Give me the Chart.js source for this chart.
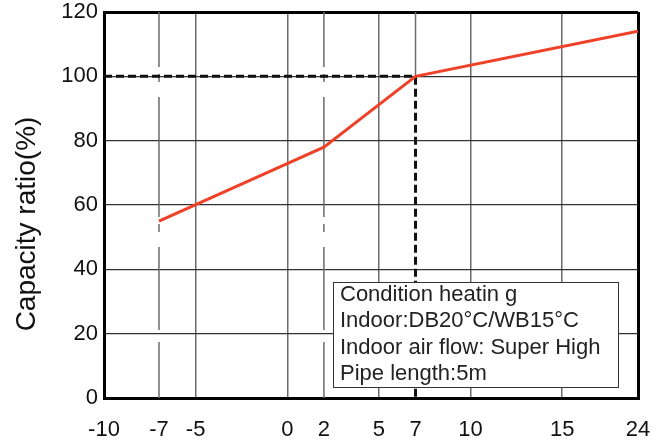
<!DOCTYPE html>
<html>
<head>
<meta charset="utf-8">
<script src="https://cdn.jsdelivr.net/npm/chart.js@4.4.0/dist/chart.umd.min.js"></script>
<style>
  html, body { margin: 0; padding: 0; background: #fff; }
</style>
</head>
<body>
<canvas id="myChart" width="671" height="441"></canvas>
<script>
// outdoor temperature ticks (deg C) as printed under the axis
const xTickLabels = [-10, -7, -5, 0, 2, 5, 7, 10, 15, 24];
// heating capacity curve
const tempPoints = [-7, 2, 7, 24];
const capacityRatio = [55, 78, 100, 114];
// rated point with the dashed guide lines
const ratedTemp = 7;
const ratedCapacity = 100;
// grid lines that are drawn dash-dot in the original
const dashDotTemps = [-7, 2];
const noteLines = ['Condition heatin g', 'Indoor:DB20°C/WB15°C', 'Indoor air flow: Super High', 'Pipe length:5m'];
const yTitle = 'Capacity ratio(%)';

const FONT = '"Liberation Sans", Arial, sans-serif';
const GRID_GREY = '#6b6b6b';

// the printed axis is squeezed after 15 (15..24 takes less room)
function axisPos(t) {
  return t <= 15 ? t : 15 + (t - 15) * 0.46;
}

function vLine(t, fromY, toY) {
  return [{ x: axisPos(t), y: fromY }, { x: axisPos(t), y: toY }];
}

const curveData = tempPoints.map((t, i) => ({ x: axisPos(t), y: capacityRatio[i] }));
const guideData = [
  { x: axisPos(xTickLabels[0]), y: ratedCapacity },
  { x: axisPos(ratedTemp), y: ratedCapacity },
  { x: axisPos(ratedTemp), y: 0 }
];

const lineBase = { pointRadius: 0, tension: 0, fill: false };

const datasets = [
  Object.assign({ data: curveData, borderColor: '#ef4128', borderWidth: 3 }, lineBase),
  Object.assign({ data: guideData, borderColor: '#111', borderWidth: 3, borderDash: [8, 4] }, lineBase),
  Object.assign({ data: vLine(ratedTemp, 120, ratedCapacity), borderColor: GRID_GREY, borderWidth: 1.5 }, lineBase)
];
dashDotTemps.forEach((t) => {
  datasets.push(Object.assign({
    data: vLine(t, 120, 0), borderColor: GRID_GREY, borderWidth: 1.5,
    borderDash: [55, 7, 8, 15, 120, 7, 8, 15, 83, 12, 100]
  }, lineBase));
});

const notesPlugin = {
  id: 'notes',
  afterDatasetsDraw(chart) {
    const { ctx, chartArea } = chart;
    const left = chartArea.left + 229;
    const top = chartArea.bottom - 116;
    ctx.save();
    ctx.fillStyle = '#fff';
    ctx.fillRect(left, top, 285, 105);
    ctx.strokeStyle = '#333';
    ctx.lineWidth = 1;
    ctx.strokeRect(left + 0.5, top + 0.5, 285, 105);
    ctx.fillStyle = '#222';
    ctx.font = '22px ' + FONT;
    ctx.textAlign = 'left';
    ctx.textBaseline = 'alphabetic';
    noteLines.forEach((line, i) => {
      ctx.fillText(line, left + 7, top + 19 + i * 26.4);
    });
    ctx.restore();
  },
  afterDraw(chart) {
    const { ctx, chartArea } = chart;
    ctx.save();
    ctx.translate(27, chartArea.top + 212);
    ctx.rotate(-Math.PI / 2);
    ctx.fillStyle = '#111';
    ctx.font = '28px ' + FONT;
    ctx.textAlign = 'center';
    ctx.textBaseline = 'middle';
    ctx.fillText(yTitle, 0, 0);
    ctx.restore();
  }
};

function mainEvent() {
  const target = document.querySelector('#myChart');
  const lastIdx = xTickLabels.length - 1;
  new Chart(target, {
    type: 'line',
    data: { datasets: datasets },
    plugins: [notesPlugin],
    options: {
      responsive: false,
      devicePixelRatio: 1,
      animation: false,
      layout: { padding: { top: 12, right: 33, left: 0, bottom: 0 } },
      plugins: { legend: { display: false }, tooltip: { enabled: false } },
      scales: {
        x: {
          type: 'linear',
          min: axisPos(xTickLabels[0]),
          max: axisPos(xTickLabels[lastIdx]),
          afterBuildTicks: (scale) => {
            scale.ticks = xTickLabels.map((v) => ({ value: axisPos(v) }));
          },
          afterFit: (scale) => { scale.height = 43; },
          ticks: {
            autoSkip: false,
            maxRotation: 0,
            padding: 19,
            color: '#111',
            font: { family: FONT, size: 22 },
            callback: (value, index) => String(xTickLabels[index])
          },
          grid: {
            drawTicks: false,
            color: (ctx) => {
              const t = xTickLabels[ctx.index];
              if (ctx.index === 0 || ctx.index === lastIdx) return '#000';
              if (dashDotTemps.includes(t) || t === ratedTemp) return 'rgba(0,0,0,0)';
              return GRID_GREY;
            },
            lineWidth: (ctx) => (ctx.index === 0 || ctx.index === lastIdx ? 3 : 1.5)
          },
          border: { color: '#000', width: 3 }
        },
        y: {
          min: 0,
          max: 120,
          afterFit: (scale) => {
            scale.width = 104;
            scale.paddingTop = 0;
            scale.paddingBottom = 0;
          },
          ticks: {
            stepSize: 20,
            padding: 6,
            color: '#111',
            font: { family: FONT, size: 22 }
          },
          grid: {
            drawTicks: false,
            color: (ctx) => (ctx.tick && ctx.tick.value === 120 ? '#000' : '#333'),
            lineWidth: (ctx) => (ctx.tick && ctx.tick.value === 120 ? 3 : 1.2)
          },
          border: { color: '#000', width: 3 }
        }
      }
    }
  });
}

document.addEventListener('DOMContentLoaded', () => mainEvent());
</script>
</body>
</html>
